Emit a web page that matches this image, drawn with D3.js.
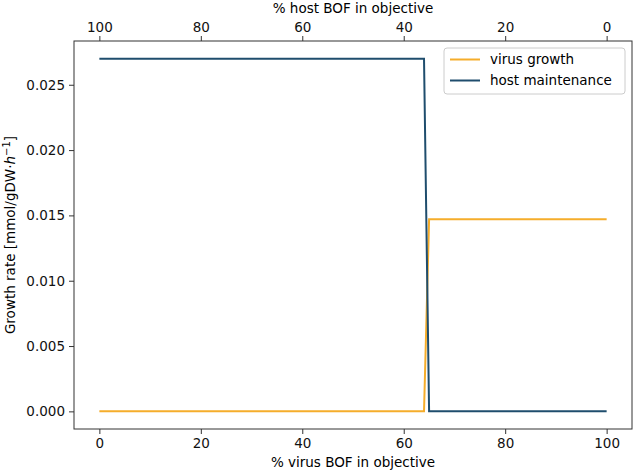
<!DOCTYPE html>
<html>
<head>
<meta charset="utf-8">
<script src="https://cdn.jsdelivr.net/npm/d3@7"></script>
<style>
body { margin: 0; background: #fff; }
text { font-family: "DejaVu Sans", sans-serif; }
</style>
</head>
<body>
<div id="graph"></div>
<script>
// values
var virusPct = [0, 64, 65, 100];
var virusGrowth = [0, 0, 0.0147, 0.0147];
var hostMaintenance = [0.027, 0.027, 0, 0];
var xTicks = [0, 20, 40, 60, 80, 100];
var yTicks = [0, 0.005, 0.010, 0.015, 0.020, 0.025];
var seriesNames = ["virus growth", "host maintenance"];
var seriesColors = ["#f5ad2b", "#1f4d6d"];

var W = 633, H = 474;
var m = {left: 74, right: 1, top: 41, bottom: 45};

var svg = d3.select("#graph").append("svg")
	.attr("width", W)
	.attr("height", H);

var x = d3.scaleLinear().domain([-5, 105]).range([m.left, W - m.right]);
var xTop = d3.scaleLinear().domain([105, -5]).range([m.left, W - m.right]);
var y = d3.scaleLinear().domain([-0.00135, 0.02835]).range([H - m.bottom, m.top]);

var bottomAxis = d3.axisBottom(x).tickValues(xTicks).tickSize(5).tickPadding(4).tickFormat(d3.format("d"));
var topAxis = d3.axisTop(xTop).tickValues(xTicks).tickSize(5).tickPadding(4).tickFormat(d3.format("d"));
var leftAxis = d3.axisLeft(y).tickValues(yTicks).tickSize(5).tickPadding(4).tickFormat(d3.format(".3f"));

function styleAxis(g) {
	g.select(".domain").remove();
	g.selectAll(".tick line").attr("stroke", "#333");
	g.selectAll(".tick text").attr("fill", "#111").style("font-size", "13.5px");
}

svg.append("g").attr("transform", "translate(0," + (H - m.bottom) + ")").call(bottomAxis).call(styleAxis);
svg.append("g").attr("transform", "translate(0," + m.top + ")").call(topAxis).call(styleAxis);
svg.append("g").attr("transform", "translate(" + m.left + ",0)").call(leftAxis).call(styleAxis);

var lineData = [virusGrowth, hostMaintenance];
var line = d3.line()
	.x(function(d, i) { return x(virusPct[i]); })
	.y(function(d) { return y(d); });

svg.selectAll("path.series")
	.data(lineData)
	.enter()
		.append("path")
		.attr("class", "series")
		.attr("d", line)
		.attr("fill", "none")
		.attr("stroke", function(d, i) { return seriesColors[i]; })
		.attr("stroke-width", 2);

// frame
svg.append("rect")
	.attr("x", m.left)
	.attr("y", m.top)
	.attr("width", W - m.right - m.left)
	.attr("height", H - m.bottom - m.top)
	.attr("fill", "none")
	.attr("stroke", "#333")
	.attr("stroke-width", 1);

// axis labels
svg.append("text")
	.attr("x", (x(0) + x(100)) / 2)
	.attr("y", 467)
	.attr("text-anchor", "middle")
	.style("font-size", "13.5px")
	.text("% virus BOF in objective");

svg.append("text")
	.attr("x", (x(0) + x(100)) / 2)
	.attr("y", 13)
	.attr("text-anchor", "middle")
	.style("font-size", "13.5px")
	.text("% host BOF in objective");

var yl = svg.append("text")
	.attr("transform", "translate(15," + ((m.top + H - m.bottom) / 2) + ") rotate(-90)")
	.attr("text-anchor", "middle")
	.style("font-size", "13.5px");
yl.append("tspan").text("Growth rate [mmol/gDW\u00b7");
yl.append("tspan").style("font-style", "italic").text("h");
yl.append("tspan").attr("dy", -5).style("font-size", "10px").text("\u22121");
yl.append("tspan").attr("dy", 5).text("]");

// legend
var legend = svg.append("g");
legend.append("rect")
	.attr("x", 444)
	.attr("y", 48)
	.attr("width", 181)
	.attr("height", 46)
	.attr("rx", 3)
	.attr("fill", "#fff")
	.attr("fill-opacity", 0.8)
	.attr("stroke", "#ccc");

var items = legend.selectAll("g.item")
	.data(seriesNames)
	.enter()
		.append("g")
		.attr("class", "item")
		.attr("transform", function(d, i) { return "translate(0," + (59.5 + i * 21) + ")"; });

items.append("line")
	.attr("x1", 450).attr("x2", 480)
	.attr("stroke", function(d, i) { return seriesColors[i]; })
	.attr("stroke-width", 2);

items.append("text")
	.attr("x", 490)
	.attr("dy", "0.35em")
	.style("font-size", "13.5px")
	.text(function(d) { return d; });
</script>
</body>
</html>
